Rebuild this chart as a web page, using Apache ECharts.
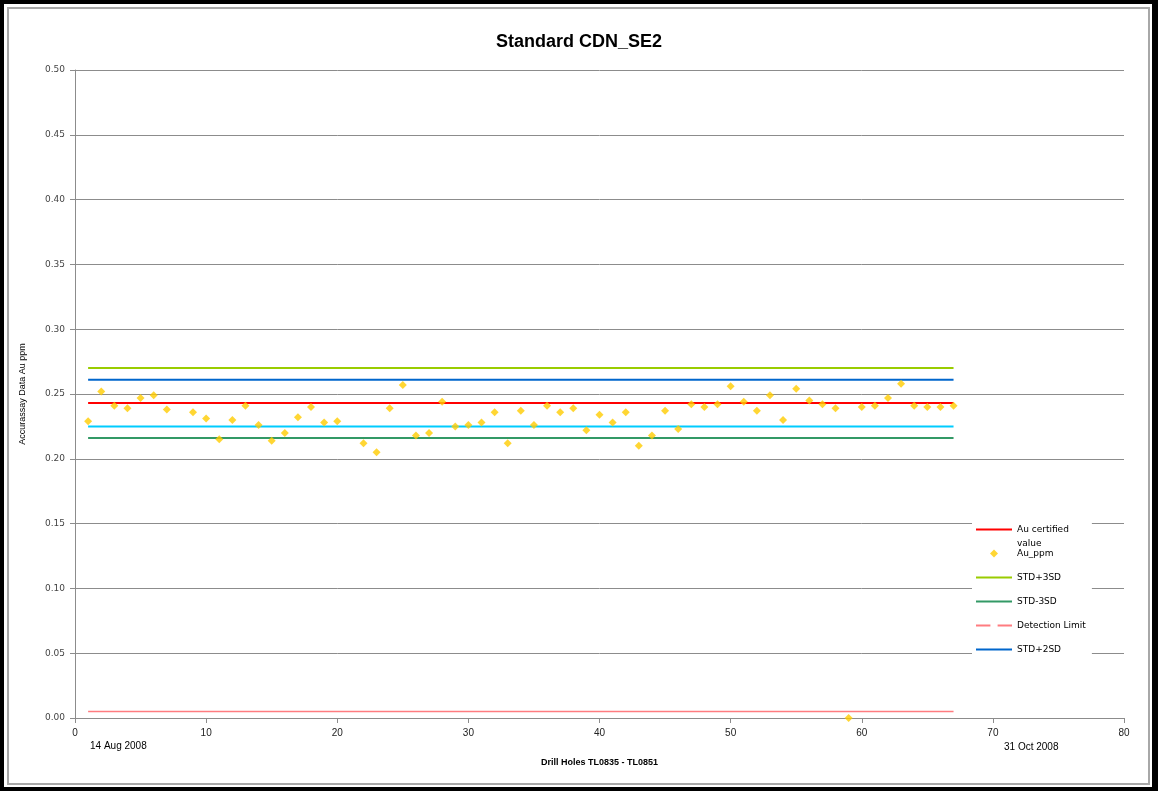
<!DOCTYPE html>
<html>
<head>
<meta charset="utf-8">
<title>Standard CDN_SE2</title>
<script src="https://cdn.jsdelivr.net/npm/echarts@6/dist/echarts.min.js"></script>
<style>
  html, body { margin: 0; padding: 0; background: #fff; }
  .frame {
    position: absolute; left: 0; top: 0; width: 1158px; height: 791px;
    box-sizing: border-box; border: 4px solid #000; border-right-width: 6px;
  }
  .inner {
    position: absolute; left: 3px; top: 3px; right: 2px; bottom: 2px;
    border: 2px solid #a8a8a8;
  }
  #main { position: absolute; left: 0; top: 0; width: 1158px; height: 791px; }
</style>
</head>
<body>
<div class="frame"><div class="inner"></div></div>
<div id="main"></div>
<script>
  // sample numbers (drill hole sequence) and Au assay values, ppm
  var holeNo = [1, 2, 3, 4, 5, 6, 7, 9, 10, 11, 12, 13, 14, 15, 16, 17, 18, 19, 20,
    22, 23, 24, 25, 26, 27, 28, 29, 30, 31, 32, 33, 34, 35, 36, 37, 38, 39, 40, 41,
    42, 43, 44, 45, 46, 47, 48, 49, 50, 51, 52, 53, 54, 55, 56, 57, 58, 59, 60, 61,
    62, 63, 64, 65, 66, 67];
  var auPpm = [0.229, 0.252, 0.241, 0.239, 0.247, 0.249, 0.238, 0.236, 0.231, 0.215,
    0.230, 0.241, 0.226, 0.214, 0.220, 0.232, 0.240, 0.228, 0.229,
    0.212, 0.205, 0.239, 0.257, 0.218, 0.220, 0.244, 0.225, 0.226, 0.228, 0.236,
    0.212, 0.237, 0.226, 0.241, 0.236, 0.239, 0.222, 0.234, 0.228,
    0.236, 0.210, 0.218, 0.237, 0.223, 0.242, 0.240, 0.242, 0.256, 0.244, 0.237,
    0.249, 0.230, 0.254, 0.245, 0.242, 0.239, 0.000, 0.240, 0.241,
    0.247, 0.258, 0.241, 0.240, 0.240, 0.241];

  // reference lines for the standard
  var refNames = ['Au certified value', 'STD+3SD', 'STD-3SD', 'Detection Limit', 'STD+2SD', 'STD-2SD'];
  var refValues = [0.243, 0.270, 0.216, 0.005, 0.261, 0.225];
  var refColors = ['#ff0000', '#99cc00', '#339966', '#ff7c80', '#0066cc', '#00ccff'];

  var legendOrder = ['Au certified value', 'Au_ppm', 'STD+3SD', 'STD-3SD', 'Detection Limit', 'STD+2SD'];

  var firstHole = holeNo[0];
  var lastHole = holeNo[holeNo.length - 1];

  // legend icons: thin line, dashed line, diamond
  var lineIcon = 'path://M0,0H40V2H0Z';
  var dashIcon = 'path://M0,0H16V2H0Z M24,0H40V2H24Z';
  var diamondIcon = 'path://M4,0L8,4L4,8L0,4Z';

  var myChart = echarts.init(document.getElementById('main'));

  var series = refNames.map(function (name, i) {
    return {
      name: name,
      type: 'line',
      data: [[firstHole, refValues[i]], [lastHole, refValues[i]]],
      symbol: 'none',
      silent: true,
      z: 2,
      lineStyle: { color: refColors[i], width: name === 'Detection Limit' ? 1.5 : 2 },
      itemStyle: { color: refColors[i] }
    };
  });

  series.push({
    name: 'Au_ppm',
    type: 'scatter',
    symbol: 'diamond',
    symbolSize: 8,
    z: 5,
    itemStyle: { color: '#ffcc00' },
    data: holeNo.map(function (h, i) { return [h, auPpm[i]]; })
  });

  var option = {
    animation: false,
    title: {
      text: 'Standard CDN_SE2',
      left: 'center',
      top: 28,
      textStyle: { fontFamily: 'Liberation Sans', fontSize: 18, fontWeight: 'bold', color: '#000' }
    },
    grid: { left: 75, right: 34, top: 70, bottom: 73 },
    legend: {
      orient: 'vertical',
      left: 972,
      top: 521,
      symbolKeepAspect: true,
      data: legendOrder.map(function (name) {
        var icon = lineIcon;
        if (name === 'Au_ppm') icon = diamondIcon;
        if (name === 'Detection Limit') icon = dashIcon;
        return { name: name, icon: icon };
      }),
      itemWidth: 36,
      itemHeight: 8,
      itemGap: 11,
      backgroundColor: '#fff',
      padding: [2, 6, 4, 4],
      formatter: function (name) {
        return name === 'Au certified value' ? 'Au certified' : name;
      },
      textStyle: { fontFamily: 'DejaVu Sans', fontSize: 9, color: '#000', lineHeight: 13 }
    },
    xAxis: {
      type: 'value',
      min: 0,
      max: 80,
      interval: 10,
      name: 'Drill Holes TL0835 - TL0851',
      nameLocation: 'middle',
      nameGap: 40,
      nameTextStyle: { fontFamily: 'Liberation Sans', fontSize: 9, fontWeight: 'bold', color: '#000' },
      axisLine: { lineStyle: { color: '#8c8c8c' } },
      axisTick: { show: true, length: 5, lineStyle: { color: '#8c8c8c' } },
      axisLabel: { fontFamily: 'Liberation Sans', fontSize: 10, color: '#222', margin: 10 },
      splitLine: { show: false }
    },
    yAxis: {
      type: 'value',
      min: 0,
      max: 0.5,
      interval: 0.05,
      name: 'Accurassay Data Au ppm',
      nameLocation: 'middle',
      nameGap: 48,
      nameTextStyle: { fontFamily: 'Liberation Sans', fontSize: 9, color: '#000' },
      axisLine: { show: true, lineStyle: { color: '#8c8c8c' } },
      axisTick: { show: true, length: 5, lineStyle: { color: '#8c8c8c' } },
      axisLabel: {
        fontFamily: 'DejaVu Sans', fontSize: 9, color: '#444', margin: 10,
        formatter: function (v) { return v.toFixed(2); }
      },
      splitLine: { lineStyle: { color: '#8c8c8c', width: 1 } }
    },
    graphic: [
      // second line of the wrapped legend label
      { type: 'text', left: 1017, top: 539, z: 100, style: { text: 'value', font: '9px "DejaVu Sans"', fill: '#000' } },
      { type: 'text', left: 90, top: 741, style: { text: '14 Aug 2008', font: '10px "Liberation Sans"', fill: '#000' } },
      { type: 'text', left: 1004, top: 742, style: { text: '31 Oct 2008', font: '10px "Liberation Sans"', fill: '#000' } }
    ],
    series: series
  };

  myChart.setOption(option);
</script>
</body>
</html>
